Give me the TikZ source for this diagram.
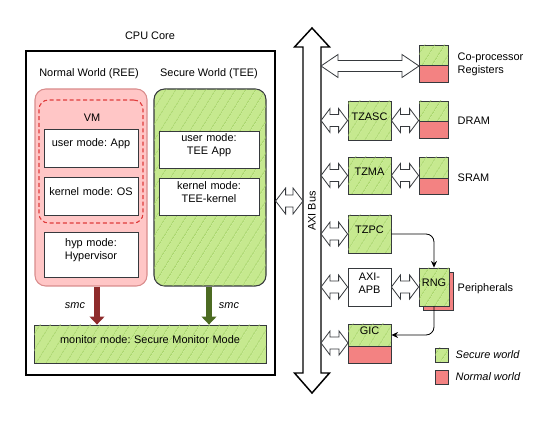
\documentclass[tikz,border=0pt]{standalone}
\usepackage{fontspec}
\setmainfont{Liberation Sans}
\frenchspacing
\usetikzlibrary{patterns.meta,fit,calc,arrows.meta}
\definecolor{gfill}{HTML}{C6E98F}
\definecolor{ghatch}{HTML}{99CC58}
\definecolor{pfill}{HTML}{FFC6C6}
\definecolor{pdraw}{HTML}{D98C8C}
\definecolor{rfill}{HTML}{F38282}
\definecolor{dashred}{HTML}{E03C3C}
\definecolor{edge}{HTML}{36393D}
\definecolor{smcred}{HTML}{8E2B2B}
\definecolor{smcgreen}{HTML}{4C6B22}
\tikzset{
  every node/.style={font=\fontsize{8.2}{9.8}\selectfont, text=black},
  boxat/.style={fit={#1}, inner sep=0pt, draw=edge, line width=0.6pt, align=center},
  greenbox/.style={boxat={#1}, fill=gfill,
     postaction={pattern={Lines[angle=58,distance=6.5pt,line width=0.55pt]}, pattern color=ghatch}},
  whitebox/.style={boxat={#1}, fill=white},
  redbox/.style={boxat={#1}, fill=rfill},
  dblarr/.style={draw=edge, fill=white, line width=0.6pt, line join=miter},
  thinarr/.style={draw=black, line width=0.6pt, rounded corners=6pt, -{Stealth[length=5pt,width=4.5pt]}},
  smcarr/.style={line width=5pt, -{Triangle[length=6pt,width=11pt]}},
}
% horizontal double block arrow: #1 start, #2 end (same y), #3 shaft half, #4 head half, #5 head length
\newcommand\dblh[5]{%
  \draw[dblarr] let \p1=(#1), \p2=(#2) in
    (\x1,\y2) -- ++(#5,-#4) -- ++(0,{#4-#3}) -- ($(\x2,\y2)+(-#5,-#3)$) -- ++(0,{#3-#4})
    -- (\x2,\y2) -- ++(-#5,#4) -- ++(0,{#3-#4}) -- ($(\x1,\y2)+(#5,#3)$) -- ++(0,{#4-#3}) -- cycle;}
\begin{document}
\begin{tikzpicture}[x=0.75pt,y=-0.75pt]
\useasboundingbox (0,0) rectangle (557,427);

% CPU core
\node[anchor=base] (cpulabel) at (150,40) {CPU Core};
\node[boxat={(26,51) (275,375)}, draw=black, line width=0.9pt] (cpu) {};
\node (nwlabel) at (89,74) {Normal World (REE)};
\node (swlabel) at (209,74) {Secure World (TEE)};

% normal world
\node[fit={(35,89) (147,286)}, inner sep=0pt, draw=pdraw, fill=pfill, rounded corners=8pt, line width=0.8pt] (nw) {};
\node[fit={(39,100) (143,223)}, inner sep=0pt, draw=dashred, dash pattern=on 3pt off 2pt, rounded corners=7pt, line width=0.8pt] (vm) {};
\node (vmlabel) at (92,118) {VM};
\node[whitebox={(44,129) (138,167)}] (uapp) {user mode: App};
\node[whitebox={(44,177) (138,215)}] (kos) {kernel mode: OS};
\node[whitebox={(44,232) (138,277)}] (hyp) {hyp mode:\\Hypervisor};

% secure world
\node[greenbox={(154,89) (266,286)}, rounded corners=8pt, line width=0.8pt] (sw) {};
\node[whitebox={(159,131) (259,168)}] (tapp) {user mode:\\TEE App};
\node[whitebox={(159,178) (259,215)}] (tk) {kernel mode:\\TEE-kernel};

% monitor
\node[greenbox={(34,325) (266,363)}] (mon) {monitor mode: Secure Monitor Mode};
\coordinate (rA) at (97,286);
\coordinate (gA) at (209,286);
\draw[smcarr, smcred] (nw.south -| rA) -- (mon.north -| rA);
\draw[smcarr, smcgreen] (sw.south -| gA) -- (mon.north -| gA);
\node[font=\fontsize{8.2}{9.8}\selectfont\itshape] (smc1) at (75,306) {smc};
\node[font=\fontsize{8.2}{9.8}\selectfont\itshape] (smc2) at (229,306) {smc};

% AXI bus
\coordinate (busL) at (303,201);
\coordinate (busR) at (321,201);
\draw[draw=black, fill=white, line width=1.1pt, line join=miter]
  (312,28) -- (329.5,47) -- (321,47) -- (321,373) -- (329.5,373) -- (312,393)
  -- (294.5,373) -- (303,373) -- (303,47) -- (294.5,47) -- cycle;
\node[rotate=90] (axi) at (312,211) {AXI Bus};
\coordinate (cpuR) at (cpu.east |- busL);
\dblh{cpuR}{busL}{6}{13}{10}

% co-processor
\node[greenbox={(419,45) (448,65)}] (cop) {};
\node[redbox={(419,65) (448,82)}] (copr) {};
\node[anchor=west, align=left] (coplabel) at (453,64) {Co-processor\\Registers};
\coordinate (copy) at (419,66);
\dblh{busR |- copy}{copy}{5.5}{11.5}{17}

% TZASC / DRAM
\node[greenbox={(348,101) (391,140)}] (tzasc) {TZASC};
\node[greenbox={(419,101) (448,121)}] (dram) {};
\node[redbox={(419,121) (448,138)}] (dramr) {};
\node[anchor=west] (dramlabel) at (453,121) {DRAM};
\dblh{busR |- tzasc}{tzasc.west}{6}{12}{9}
\dblh{tzasc.east}{tzasc.east -| dram.west}{6}{12}{9}

% TZMA / SRAM
\node[greenbox={(348,157) (391,194)}] (tzma) {TZMA};
\node[greenbox={(419,157) (448,178)}] (sram) {};
\node[redbox={(419,178) (448,194)}] (sramr) {};
\node[anchor=west] (sramlabel) at (453,178) {SRAM};
\dblh{busR |- tzma}{tzma.west}{6}{12}{9}
\dblh{tzma.east}{tzma.east -| sram.west}{6}{12}{9}

% TZPC
\node[greenbox={(348,215) (391,253)}] (tzpc) {TZPC};
\dblh{busR |- tzpc}{tzpc.west}{6}{12}{9}

% AXI-APB and RNG
\node[whitebox={(348,268) (391,306)}] (apb) {AXI-\\APB};
\node[redbox={(423,272) (453,310)}] (rngs) {};
\node[greenbox={(419,268) (449,306)}] (rng) {RNG};
\node[anchor=west] (perlabel) at (453,289) {Peripherals};
\dblh{busR |- apb}{apb.west}{6}{12}{9}
\dblh{apb.east}{rng.west}{6}{12}{9}

% GIC
\node[greenbox={(348,324) (391,346)}] (gic) {GIC};
\node[redbox={(348,346) (391,363)}] (gicr) {};
\coordinate (gicy) at (348,343);
\dblh{busR |- gicy}{gicy}{6}{12}{9}

\draw[thinarr] (tzpc.east) -| (rng.north);
\draw[thinarr] (rng.south) |- (gic.east);

% legend
\node[greenbox={(435,348) (448,362)}] (lg) {};
\node[redbox={(435,370) (448,384)}] (lr) {};
\node[anchor=west, font=\fontsize{8.2}{9.8}\selectfont\itshape] (lgt) at (451,355) {Secure world};
\node[anchor=west, font=\fontsize{8.2}{9.8}\selectfont\itshape] (lrt) at (451,377) {Normal world};
\end{tikzpicture}
\end{document}
